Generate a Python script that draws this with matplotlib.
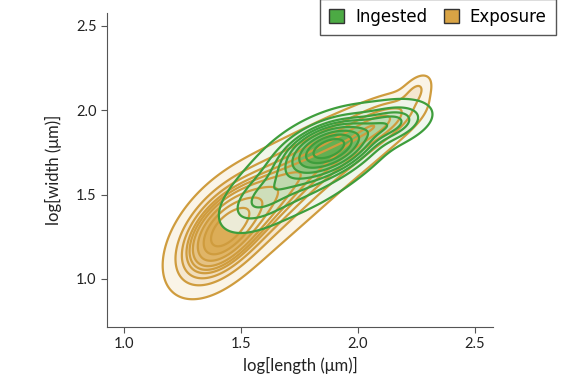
import numpy as np
import matplotlib.pyplot as plt
from matplotlib.colors import LinearSegmentedColormap
from matplotlib.patches import Patch

# Gaussian mixture components, along each ridge
# (mean x, mean y, sd x, sd y, correlation, weight)
exposure_mx = [1.41, 1.51, 1.64, 1.80, 1.97, 2.12, 2.25]
exposure_my = [1.25, 1.37, 1.50, 1.66, 1.82, 1.95, 2.12]
exposure_sx = [0.105, 0.14, 0.17, 0.18, 0.14, 0.10, 0.04]
exposure_sy = [0.165, 0.18, 0.19, 0.18, 0.13, 0.09, 0.06]
exposure_rho = [0.50, 0.55, 0.65, 0.70, 0.65, 0.60, 0.50]
exposure_w = [0.31, 0.22, 0.18, 0.14, 0.09, 0.05, 0.01]

ingested_mx = [1.88, 1.80, 1.57, 2.14]
ingested_my = [1.78, 1.68, 1.45, 1.92]
ingested_sx = [0.10, 0.17, 0.09, 0.09]
ingested_sy = [0.085, 0.17, 0.10, 0.07]
ingested_rho = [0.45, 0.65, 0.50, 0.40]
ingested_w = [0.42, 0.42, 0.06, 0.10]

labels = ["Ingested", "Exposure"]
green = "#3E9E3C"
gold = "#CF9C3E"
green_fill = "#4CAA44"
gold_fill = "#D9A445"

xticks = [1.0, 1.5, 2.0, 2.5]
yticks = [1.0, 1.5, 2.0, 2.5]


def mixture(X, Y, mx, my, sx, sy, rho, w):
    Z = np.zeros_like(X)
    for a, b, s, t, r, k in zip(mx, my, sx, sy, rho, w):
        u = (X - a) / s
        v = (Y - b) / t
        q = (u**2 - 2*r*u*v + v**2) / (1 - r**2)
        Z += k * np.exp(-0.5*q) / (2*np.pi*s*t*np.sqrt(1 - r**2))
    return Z


def iso_levels(Z, props):
    vals = np.sort(Z.ravel())
    cum = np.cumsum(vals)
    cum /= cum[-1]
    return np.interp(props, cum, vals)


xg = np.linspace(0.85, 2.65, 400)
yg = np.linspace(0.65, 2.65, 400)
X, Y = np.meshgrid(xg, yg)

plt.rcParams['font.family'] = ['Lato', 'DejaVu Sans']
fig = plt.figure(figsize=(5.69, 3.90), dpi=100)
ax = fig.add_axes([107/569, 1 - 327/390, 386/569, 314/390])

props = np.linspace(0.05, 1, 10)
for mx, my, sx, sy, rho, w, col, fcol, fa in [
        (exposure_mx, exposure_my, exposure_sx, exposure_sy, exposure_rho, exposure_w, gold, gold_fill, 0.9),
        (ingested_mx, ingested_my, ingested_sx, ingested_sy, ingested_rho, ingested_w, green, green_fill, 0.85)]:
    Z = mixture(X, Y, mx, my, sx, sy, rho, w)
    lev = iso_levels(Z, props)
    cmap = LinearSegmentedColormap.from_list("c", ["#FFFFFF", fcol])
    ax.contourf(X, Y, Z, levels=lev, cmap=cmap, alpha=fa, vmin=lev[0] * 0.3, vmax=lev[-3])
    ax.contour(X, Y, Z, levels=lev[:-1], colors=col, linewidths=1.6)

ax.set_xlim(0.927, 2.577)
ax.set_ylim(0.715, 2.577)
ax.set_xticks(xticks)
ax.set_yticks(yticks)
ax.spines[['top', 'right']].set_visible(False)
for s in ['left', 'bottom']:
    ax.spines[s].set_color('#555555')
ax.tick_params(colors='#555555', labelcolor='#222222', labelsize=10.5, length=4)
ax.set_xlabel("log[length (μm)]", fontsize=12, color='#222222')
ax.set_ylabel("log[width (μm)]", fontsize=12, color='#222222', labelpad=10)

handles = [Patch(facecolor=green_fill, edgecolor='#333333', label=labels[0]),
           Patch(facecolor=gold_fill, edgecolor='#333333', label=labels[1])]
fig.legend(handles=handles, loc='upper right', bbox_to_anchor=(559/569, 1.012),
           ncol=2, fancybox=False, edgecolor='#555555', framealpha=1,
           prop={'family': 'DejaVu Sans', 'size': 12}, handlelength=0.9,
           handleheight=0.9, columnspacing=1.0, handletextpad=0.65, borderpad=0.55,
           borderaxespad=0.2)

fig.savefig("out.png", dpi=100)
